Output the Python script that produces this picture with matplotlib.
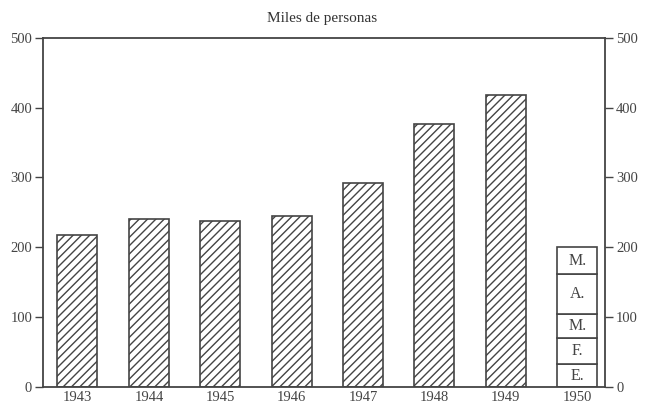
import numpy as np
import matplotlib
matplotlib.use("Agg")
import matplotlib.pyplot as plt

# data
years = ['1943', '1944', '1945', '1946', '1947', '1948', '1949']
values = [218, 240, 238, 245, 292, 377, 418]
months_1950 = ['E.', 'F.', 'M.', 'A.', 'M.']
month_vals = [32, 38, 35, 57, 38]
all_labels = years + ['1950']
yticks = [0, 100, 200, 300, 400, 500]

plt.rcParams['font.family'] = ['Liberation Serif', 'DejaVu Serif']
plt.rcParams['hatch.linewidth'] = 1.0
plt.rcParams['hatch.color'] = '#555555'

fig = plt.figure(figsize=(6.45, 4.08), dpi=100)
ax = fig.add_axes([0.067, 0.052, 0.871, 0.855])

x = np.arange(len(years))
ax.bar(x, values, width=0.56, color='white', edgecolor='#444444',
       hatch='////', linewidth=1.2)

# 1950 stacked monthly boxes
bottom = 0
for lab, v in zip(months_1950, month_vals):
    ax.bar(len(years), v, bottom=bottom, width=0.56, color='white',
           edgecolor='#444444', linewidth=1.2)
    ax.text(len(years), bottom + v / 2, lab, ha='center', va='center',
            fontsize=11.5, color='#444444')
    bottom += v

ax.set_xlim(-0.48, 7.39)
ax.set_ylim(0, 500)
ax.set_xticks(np.arange(len(all_labels)))
ax.set_xticklabels(all_labels, fontsize=10.5, color='#444444')
ax.tick_params(axis='x', length=0, pad=3)
ax.set_yticks(yticks)
ax.tick_params(axis='y', which='both', left=True, right=True,
               labelleft=True, labelright=True, direction='out',
               length=6, width=1.0, color='#444444',
               labelsize=10.5, labelcolor='#444444', pad=2)
for s in ax.spines.values():
    s.set_color('#444444')
    s.set_linewidth(1.3)

fig.text(0.5, 0.955, 'Miles de personas', ha='center', va='center',
         fontsize=11, color='#333333')

fig.savefig('out.png', dpi=100)
